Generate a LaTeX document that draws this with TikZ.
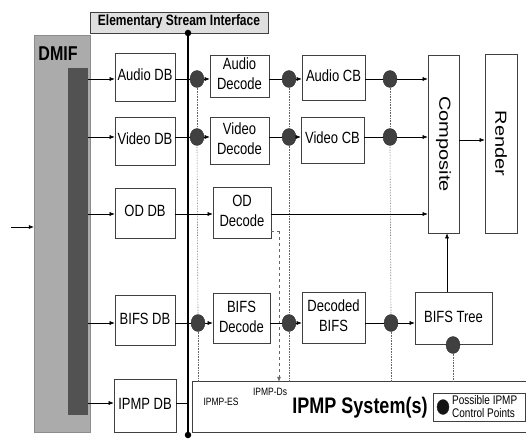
\documentclass[tikz,border=0pt]{standalone}
\usepackage{fontspec}
\setmainfont{Liberation Sans}
\usetikzlibrary{arrows.meta,shapes.geometric}
\newcommand{\vt}[1]{\scalebox{1}[1.25]{\begin{tabular}{@{}c@{}}#1\end{tabular}}}
\newcommand{\hst}[1]{\scalebox{1.25}[1]{#1}}
\begin{document}
\begin{tikzpicture}[x=1pt,y=-1pt,
  box/.style={draw=black!75, line width=0.6pt, inner sep=0pt, fill=white,
    font=\fontsize{13}{16}\selectfont},
  cp/.style={ellipse, fill=black!75, draw=black!85, line width=0.3pt,
    minimum width=14pt, minimum height=17pt, inner sep=0pt},
  busdot/.style={circle, fill=black, minimum size=6.5pt, inner sep=0pt},
  arr/.style={-{Latex[length=5pt,width=4pt]}, line width=0.55pt},
  ln/.style={line width=0.55pt},
  dl/.style={densely dotted, black!60, line width=0.6pt},
  dsh/.style={dashed, black!60, line width=0.6pt}]
\useasboundingbox (0,0) rectangle (526,443);

% DMIF bar
\node[fill=black!33, draw=black!45, minimum width=56pt, minimum height=397pt, inner sep=0pt] (dmif) at (62,233.5) {};
\node[fill=black!68, minimum width=20pt, minimum height=347pt, inner sep=0pt] (strip) at (78,241.5) {};
\node[font=\bfseries\fontsize{16}{16}\selectfont] (dmiflab) at (58,57) {\vt{DMIF}};

% Elementary stream interface
\node[draw=black!75, fill=gray!25, minimum width=178pt, minimum height=21pt, inner sep=0pt,
  font=\bfseries\fontsize{12}{12}\selectfont] (esi) at (179,22.5) {\vt{Elementary Stream Interface}};

% IPMP system frame
\node[minimum width=334pt, minimum height=50pt, inner sep=0pt] (ipmp) at (360,407) {};
\draw[line width=0.7pt, black!75] (ipmp.north east) -- (ipmp.north west) -- (ipmp.south west) -- (ipmp.south east);
\node[font=\bfseries\fontsize{18}{18}\selectfont] (ipmplab) at (360,409) {\vt{IPMP System(s)}};
\node[font=\fontsize{8.5}{8.5}\selectfont] (iesl) at (221,403) {\vt{IPMP-ES}};
\node[font=\fontsize{8.5}{8.5}\selectfont] (idsl) at (270,393) {\vt{IPMP-Ds}};

% legend
\node[draw=black!75, minimum width=92pt, minimum height=28pt, inner sep=0pt] (legend) at (479,407) {};
\node[cp, fill=black!92, minimum width=12pt, minimum height=15pt] (legdot) at (443,407) {};
\node[anchor=west, font=\fontsize{10}{10.5}\selectfont, inner sep=0pt] (legtxt) at (452,408)
  {\scalebox{1}[1.25]{\begin{tabular}{@{}l@{}}Possible IPMP\\Control Points\end{tabular}}};

% row coordinates
\coordinate (rA) at (0,79);
\coordinate (rV) at (0,137);
\coordinate (rO) at (0,214);
\coordinate (rB) at (0,323);
\coordinate (rI) at (0,403);
\coordinate (rR) at (0,140);
\coordinate (inA) at (11,227);
\coordinate (odD) at (279,231);
\coordinate (btx) at (447,0);

% column 1
\node[box, minimum width=60pt, minimum height=48pt] (adb) at (145,77) {\vt{Audio DB}};
\node[box, minimum width=60pt, minimum height=48pt] (vdb) at (145,141) {\vt{Video DB}};
\node[box, minimum width=60pt, minimum height=50pt] (odb) at (145,213) {\vt{OD DB}};
\node[box, minimum width=60pt, minimum height=50pt] (bdb) at (145,320) {\vt{BIFS DB}};
\node[box, minimum width=62pt, minimum height=53pt] (idb) at (145,405.5) {\vt{IPMP DB}};

% column 2
\node[box, minimum width=59pt, minimum height=42pt] (adec) at (239.5,76) {\vt{Audio\\Decode}};
\node[box, minimum width=59pt, minimum height=47pt] (vdec) at (239.5,140.5) {\vt{Video\\Decode}};
\node[box, minimum width=58pt, minimum height=51pt] (odec) at (242,212.5) {\vt{OD\\Decode}};
\node[box, minimum width=57pt, minimum height=50pt] (bdec) at (241.5,318) {\vt{BIFS\\Decode}};

% column 3
\node[box, minimum width=63pt, minimum height=45pt] (acb) at (333.5,77.5) {\vt{Audio CB}};
\node[box, minimum width=63pt, minimum height=46pt] (vcb) at (332.5,140) {\vt{Video CB}};
\node[box, minimum width=63pt, minimum height=51pt] (dbifs) at (333.5,317.5) {\vt{Decoded\\BIFS}};

% composite, render, BIFS tree
\node[box, minimum width=31pt, minimum height=178pt] (comp) at (443.5,144) {};
\node[font=\fontsize{16}{16}\selectfont, rotate=-90] (complab) at (comp.center) {\hst{Composite}};
\node[box, minimum width=32pt, minimum height=179pt] (rend) at (501,143.5) {};
\node[font=\fontsize{16}{16}\selectfont, rotate=-90] (rendlab) at (rend.center) {\hst{Render}};
\node[box, minimum width=77pt, minimum height=52pt] (btree) at (453.5,318) {\vt{BIFS Tree}};

% bus
\node[busdot] (busT) at (188,33) {};
\node[busdot] (busB) at (188,435) {};
\draw[line width=2.2pt] (busT.center) -- (busB.center);

% control point dots
\node[cp] (dA1) at (197,79) {};
\node[cp] (dA2) at (289,79) {};
\node[cp] (dA3) at (390,79) {};
\node[cp] (dV1) at (197,137) {};
\node[cp] (dV2) at (289,137) {};
\node[cp] (dV3) at (390,137) {};
\node[cp] (dB1) at (198,323) {};
\node[cp] (dB2) at (289,323) {};
\node[cp] (dB3) at (391,323) {};
\node[cp] (dT) at (453,345) {};

% dotted lines to IPMP system
\draw[dl] (dA1.south) -- (dV1.north);
\draw[dl] (dV1.south) -- (dB1.north);
\draw[dl] (dB1.south) -- (dB1 |- ipmp.north);
\draw[dl] (dA2.south) -- (dV2.north);
\draw[dl] (dV2.south) -- (dB2.north);
\draw[dl] (dB2.south) -- (dB2 |- ipmp.north);
\draw[dl] (dA3.south) -- (dV3.north);
\draw[dl] (dV3.south) -- (dB3.north);
\draw[dl] (dB3.south) -- (dB3 |- ipmp.north);
\draw[dl] (dT.south) -- (dT |- ipmp.north);

% input
\draw[arr] (inA) -- (dmif.west |- inA);
% strip to DBs
\draw[arr] (strip.east |- rA) -- (adb.west |- rA);
\draw[arr] (strip.east |- rV) -- (vdb.west |- rV);
\draw[arr] (strip.east |- rO) -- (odb.west |- rO);
\draw[arr] (strip.east |- rB) -- (bdb.west |- rB);
\draw[arr] (strip.east |- rI) -- (idb.west |- rI);

% audio
\draw[ln] (adb.east |- rA) -- (dA1.west);
\draw[arr] (dA1.east) -- (adec.west |- rA);
\draw[ln] (adec.east |- rA) -- (dA2.west);
\draw[arr] (dA2.east) -- (acb.west |- rA);
\draw[ln] (acb.east |- rA) -- (dA3.west);
\draw[arr] (dA3.east) -- (comp.west |- rA);
% video
\draw[ln] (vdb.east |- rV) -- (dV1.west);
\draw[arr] (dV1.east) -- (vdec.west |- rV);
\draw[ln] (vdec.east |- rV) -- (dV2.west);
\draw[arr] (dV2.east) -- (vcb.west |- rV);
\draw[ln] (vcb.east |- rV) -- (dV3.west);
\draw[arr] (dV3.east) -- (comp.west |- rV);
% OD
\draw[arr] (odb.east |- rO) -- (odec.west |- rO);
\draw[arr] (odec.east |- rO) -- (comp.west |- rO);
\draw[dsh] (odec.east |- odD) -- (odD);
\draw[dsh, -{Latex[length=5pt,width=4pt]}] (odD) -- (odD |- ipmp.north);
% BIFS
\draw[ln] (bdb.east |- rB) -- (dB1.west);
\draw[arr] (dB1.east) -- (bdec.west |- rB);
\draw[ln] (bdec.east |- rB) -- (dB2.west);
\draw[arr] (dB2.east) -- (dbifs.west |- rB);
\draw[ln] (dbifs.east |- rB) -- (dB3.west);
\draw[arr] (dB3.east) -- (btree.west |- rB);
\draw[arr] (btx |- btree.north) -- (btx |- comp.south);
% composite to render
\draw[arr] (comp.east |- rR) -- (rend.west |- rR);
% IPMP DB to bus
\draw[ln] (idb.east |- rI) -- (busT |- rI);
\end{tikzpicture}
\end{document}
